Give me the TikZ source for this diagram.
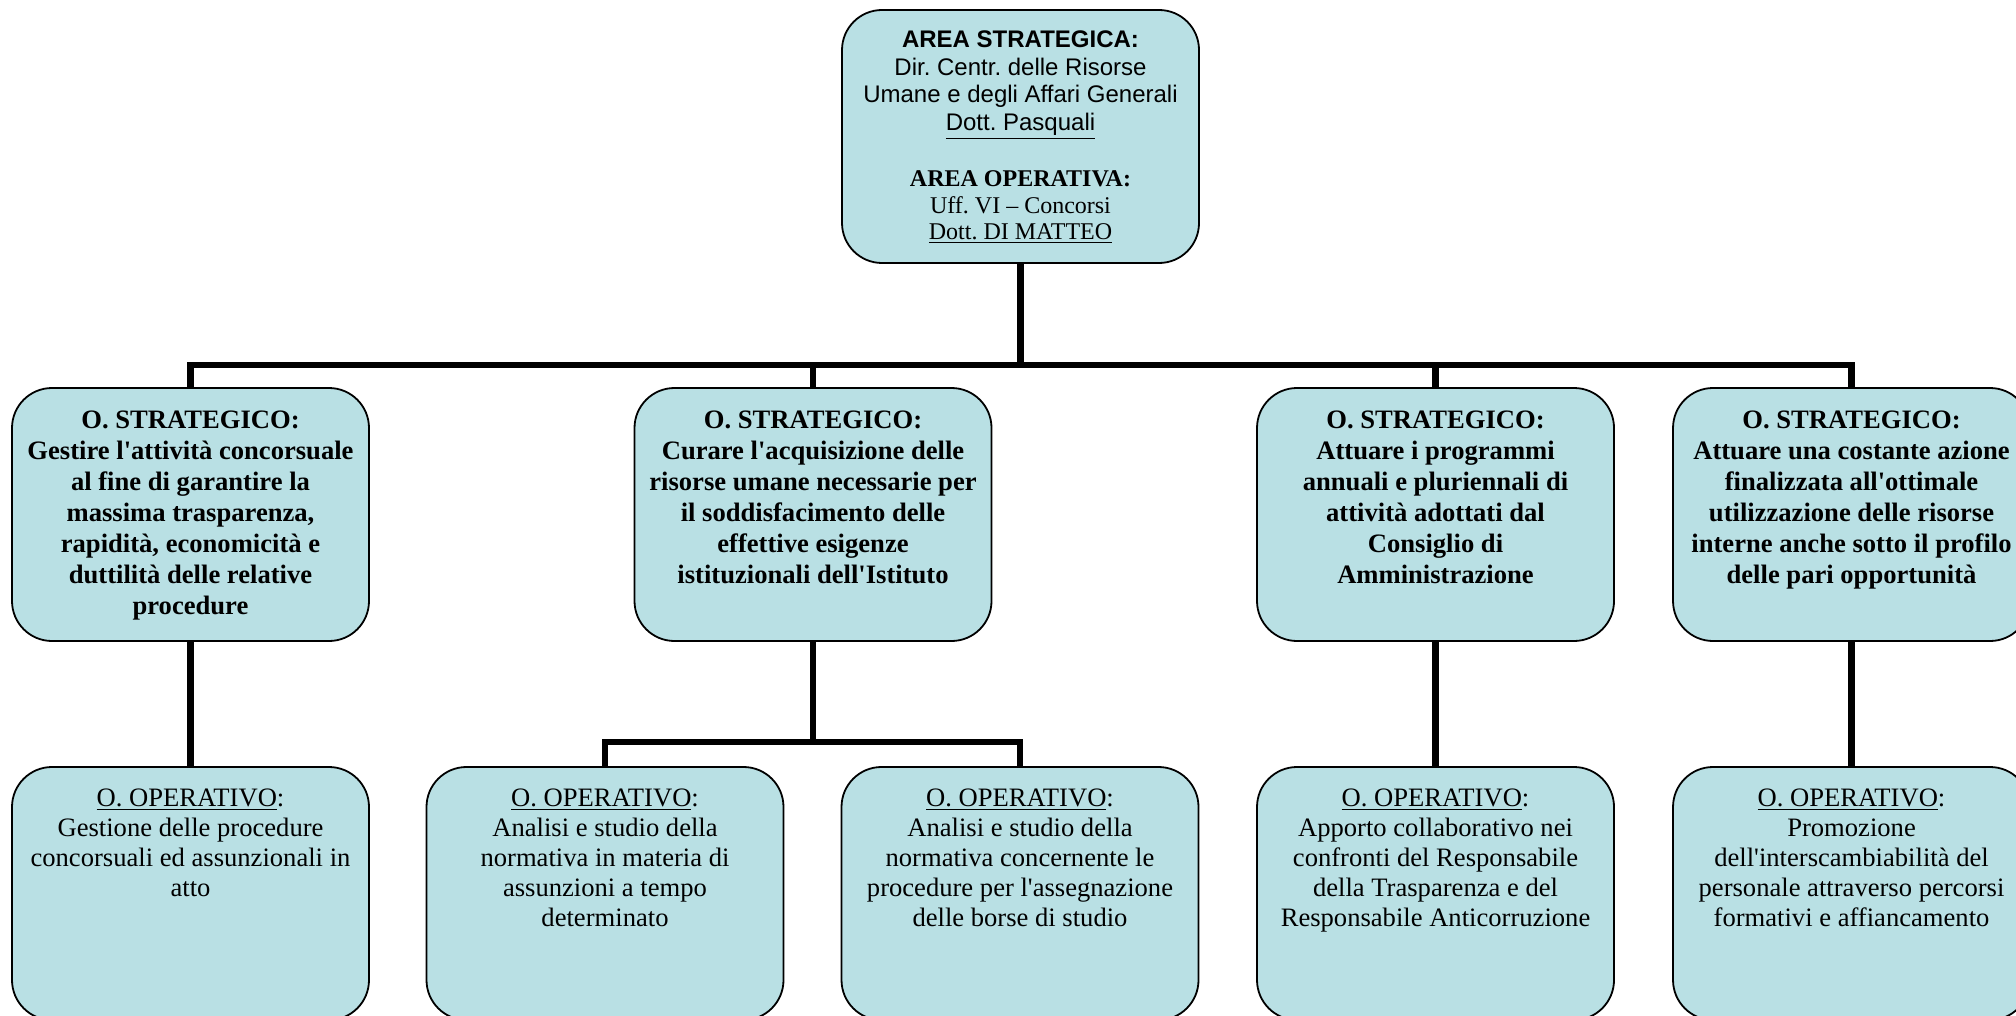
\documentclass[tikz,border=0pt]{standalone}
\usepackage{fontspec}
\setmainfont{Liberation Serif}[Ligatures=TeXOff]
\newfontfamily\arialf{Liberation Sans}[Ligatures=TeXOff]
\definecolor{boxfill}{RGB}{185,224,228}
\frenchspacing
\begin{document}
\begin{tikzpicture}[x=0.5pt,y=-0.5pt,
  box/.style={draw=black, line width=0.9pt, fill=boxfill, rounded corners=20pt,
    minimum width=178.5pt, minimum height=126.5pt, inner sep=0pt},
  stext/.style={anchor=north, yshift=-11.5pt, align=center, inner sep=0pt,
    font=\fontsize{13.3}{15.5}\selectfont\bfseries},
  otext/.style={anchor=north, yshift=-11pt, align=center, inner sep=0pt,
    font=\fontsize{13.3}{15}\selectfont},
  toptext/.style={align=center, inner sep=0pt, font=\fontsize{12}{13.8}\selectfont},
  conn/.style={draw=black, line width=3.2pt}]
\useasboundingbox (0,0) rectangle (2016,1016);
\clip (0,0) rectangle (2016,1016);

% boxes
\node[box] (top) at (1020.5,136.5) {};
\node[box] (s1) at (190.5,514.5) {};
\node[box] (s2) at (813,514.5) {};
\node[box] (s3) at (1435.5,514.5) {};
\node[box] (s4) at (1851.5,514.5) {};
\node[box] (o1) at (190.5,893.5) {};
\node[box] (o2) at (605,893.5) {};
\node[box] (o3) at (1020,893.5) {};
\node[box] (o4) at (1435.5,893.5) {};
\node[box] (o5) at (1851.5,893.5) {};

% texts
\node[toptext] (ttop) at ([yshift=-0.4pt]top.center) {{\arialf\bfseries AREA STRATEGICA:}\\
  {\arialf Dir. Centr. delle Risorse}\\
  {\arialf Umane e degli Affari Generali}\\
  {\arialf\underline{Dott. Pasquali}}\\[14.3pt]
  {\bfseries AREA OPERATIVA:}\\[-0.6pt]
  Uff. VI – Concorsi\\[-0.6pt]
  \underline{Dott. DI MATTEO}};

\node[stext] (ts1) at (s1.north) {O. STRATEGICO:\\Gestire l'attività concorsuale\\al fine di garantire la\\massima trasparenza,\\rapidità, economicità e\\duttilità delle relative\\procedure};
\node[stext] (ts2) at (s2.north) {O. STRATEGICO:\\Curare l'acquisizione delle\\risorse umane necessarie per\\il soddisfacimento delle\\effettive esigenze\\istituzionali dell'Istituto};
\node[stext] (ts3) at (s3.north) {O. STRATEGICO:\\Attuare i programmi\\annuali e pluriennali di\\attività adottati dal\\Consiglio di\\Amministrazione};
\node[stext] (ts4) at (s4.north) {O. STRATEGICO:\\Attuare una costante azione\\finalizzata all'ottimale\\utilizzazione delle risorse\\interne anche sotto il profilo\\delle pari opportunità};

\node[otext] (to1) at (o1.north) {\underline{O. OPERATIVO}:\\Gestione delle procedure\\concorsuali ed assunzionali in\\atto};
\node[otext] (to2) at (o2.north) {\underline{O. OPERATIVO}:\\Analisi e studio della\\normativa in materia di\\assunzioni a tempo\\determinato};
\node[otext] (to3) at (o3.north) {\underline{O. OPERATIVO}:\\Analisi e studio della\\normativa concernente le\\procedure per l'assegnazione\\delle borse di studio};
\node[otext] (to4) at (o4.north) {\underline{O. OPERATIVO}:\\Apporto collaborativo nei\\confronti del Responsabile\\della Trasparenza e del\\Responsabile Anticorruzione};
\node[otext] (to5) at (o5.north) {\underline{O. OPERATIVO}:\\Promozione\\dell'interscambiabilità del\\personale attraverso percorsi\\formativi e affiancamento};

% connectors
\coordinate (bus1) at (1020.5,365);
\coordinate (bus2) at (813,742);
\draw[conn] (top.south) -- (bus1);
\draw[conn] (s1.north) |- (s4.north |- bus1) -- (s4.north);
\draw[conn] (s2.north) -- (s2.north |- bus1);
\draw[conn] (s3.north) -- (s3.north |- bus1);
\draw[conn] (s1.south) -- (o1.north);
\draw[conn] (s2.south) -- (s2.south |- bus2);
\draw[conn] (o2.north) |- (o3.north |- bus2) -- (o3.north);
\draw[conn] (s3.south) -- (o4.north);
\draw[conn] (s4.south) -- (o5.north);
\end{tikzpicture}
\end{document}
